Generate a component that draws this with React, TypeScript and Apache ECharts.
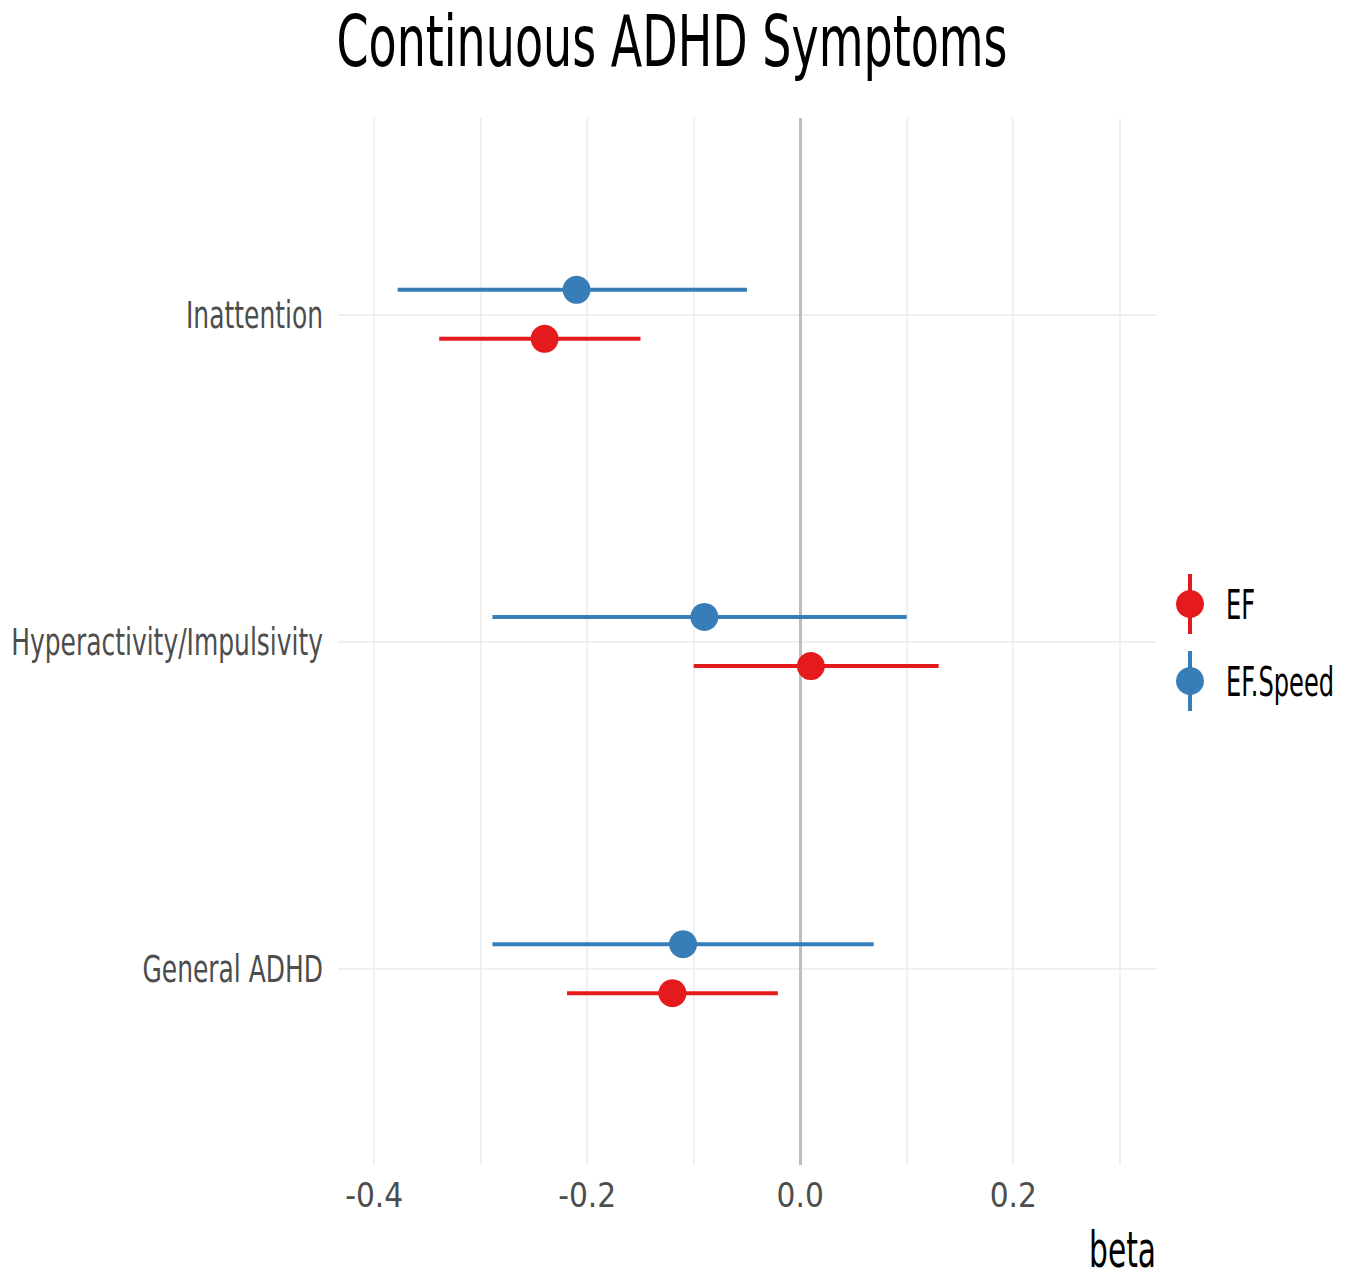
import React, { useEffect, useRef } from "react";
import * as echarts from "echarts";

const categories = ["General ADHD", "Hyperactivity/Impulsivity", "Inattention"];
const seriesNames = ["EF", "EF.Speed"];
// [low, high, estimate] per category (same order as categories)
const efValues = [
  [-0.219, -0.021, -0.12],
  [-0.1, 0.13, 0.01],
  [-0.339, -0.15, -0.24],
];
const efSpeedValues = [
  [-0.289, 0.069, -0.11],
  [-0.289, 0.1, -0.09],
  [-0.378, -0.05, -0.21],
];
const xTickLabels = [-0.4, -0.2, 0.0, 0.2];
const xGridValues = [-0.4, -0.3, -0.2, -0.1, 0.0, 0.1, 0.2, 0.3];

const FONT = "'DejaVu Sans Condensed', 'DejaVu Sans', sans-serif";
const RED = "#E41A1C";
const BLUE = "#377EB8";
const DODGE = 0.075;

function makeSeries(name: string, values: number[][], color: string, offset: number) {
  return {
    name,
    type: "custom",
    coordinateSystem: "cartesian2d",
    z: 10,
    itemStyle: { color },
    encode: { x: [0, 1, 2], y: 3 },
    data: values.map((v, i) => [v[0], v[1], v[2], i + 1]),
    renderItem: (params: any, api: any) => {
      const y = api.value(3) + offset;
      const pLo = api.coord([api.value(0), y]);
      const pHi = api.coord([api.value(1), y]);
      const pEst = api.coord([api.value(2), y]);
      return {
        type: "group",
        children: [
          {
            type: "line",
            shape: { x1: pLo[0], y1: pLo[1], x2: pHi[0], y2: pHi[1] },
            style: { stroke: color, lineWidth: 4 },
          },
          {
            type: "circle",
            shape: { cx: pEst[0], cy: pEst[1], r: 14 },
            style: { fill: color },
          },
        ],
      };
    },
  };
}

function legendItem(name: string, color: string, cy: number) {
  return {
    type: "group",
    children: [
      {
        type: "line",
        shape: { x1: 1190, y1: cy - 30, x2: 1190, y2: cy + 30 },
        style: { stroke: color, lineWidth: 4 },
      },
      { type: "circle", shape: { cx: 1190, cy, r: 14 }, style: { fill: color } },
      {
        type: "text",
        x: 1226,
        y: cy + 1,
        scaleX: 0.67,
        style: {
          text: name,
          fontFamily: FONT,
          fontSize: 40,
          fill: "#000",
          align: "left",
          verticalAlign: "middle",
        },
      },
    ],
  };
}

export default function App() {
  const ref = useRef<HTMLDivElement>(null);
  useEffect(() => {
    document.body.style.margin = "0";
    const chart = echarts.init(ref.current!, null, { renderer: "svg" });
    const option: any = {
      animation: false,
      backgroundColor: "#ffffff",
      graphic: [
        {
          type: "text",
          x: 672,
          y: 42,
          scaleX: 0.72,
          style: {
            text: "Continuous ADHD Symptoms",
            fontFamily: FONT,
            fontSize: 71,
            fill: "#000",
            align: "center",
            verticalAlign: "middle",
          },
        },
        {
          type: "text",
          x: 1156,
          y: 1250,
          scaleX: 0.66,
          style: {
            text: "beta",
            fontFamily: FONT,
            fontSize: 50,
            fill: "#000",
            align: "right",
            verticalAlign: "middle",
          },
        },
        legendItem(seriesNames[0], RED, 604),
        legendItem(seriesNames[1], BLUE, 681),
      ],
      grid: { left: 338, right: 192, top: 118, bottom: 119, containLabel: false, outerBoundsMode: "none" },
      xAxis: {
        type: "value",
        min: -0.434,
        max: 0.335,
        splitLine: { show: false },
        axisLine: { show: false },
        axisTick: { show: false },
        axisLabel: {
          customValues: xTickLabels,
          formatter: (v: number) => v.toFixed(1),
          fontFamily: FONT,
          fontSize: 33,
          color: "#4d4d4d",
          margin: 14,
        },
      },
      yAxis: {
        type: "value",
        min: 0.4,
        max: 3.6,
        splitLine: { show: false },
        axisLine: { show: false },
        axisTick: { show: false },
        axisLabel: { show: false },
      },
      series: [
        {
          type: "line",
          data: [],
          silent: true,
          z: 1,
          markLine: {
            silent: true,
            symbol: "none",
            label: { show: false },
            lineStyle: { color: "#ebebeb", width: 1.5, type: "solid" },
            data: [
              ...xGridValues.map((v) => ({ xAxis: v })),
              ...[1, 2, 3].map((v) => ({ yAxis: v })),
            ],
          },
        },
        {
          type: "line",
          data: [],
          silent: true,
          z: 2,
          markLine: {
            silent: true,
            symbol: "none",
            label: { show: false },
            lineStyle: { color: "#bebebe", width: 3, type: "solid" },
            data: [{ xAxis: 0 }],
          },
        },
        {
          type: "custom",
          coordinateSystem: "cartesian2d",
          silent: true,
          encode: { y: 0 },
          data: categories.map((c, i) => [i + 1]),
          renderItem: (params: any, api: any) => {
            const p = api.coord([-0.434, api.value(0)]);
            return {
              type: "text",
              x: p[0] - 15,
              y: p[1] + 1,
              scaleX: 0.75,
              style: {
                text: categories[params.dataIndex],
                fontFamily: FONT,
                fontSize: 37,
                fill: "#4d4d4d",
                align: "right",
                verticalAlign: "middle",
              },
            };
          },
        },
        makeSeries(seriesNames[0], efValues, RED, -DODGE),
        makeSeries(seriesNames[1], efSpeedValues, BLUE, DODGE),
      ],
    };
    chart.setOption(option);
    return () => chart.dispose();
  }, []);
  return <div ref={ref} style={{ width: 1349, height: 1284 }} />;
}
